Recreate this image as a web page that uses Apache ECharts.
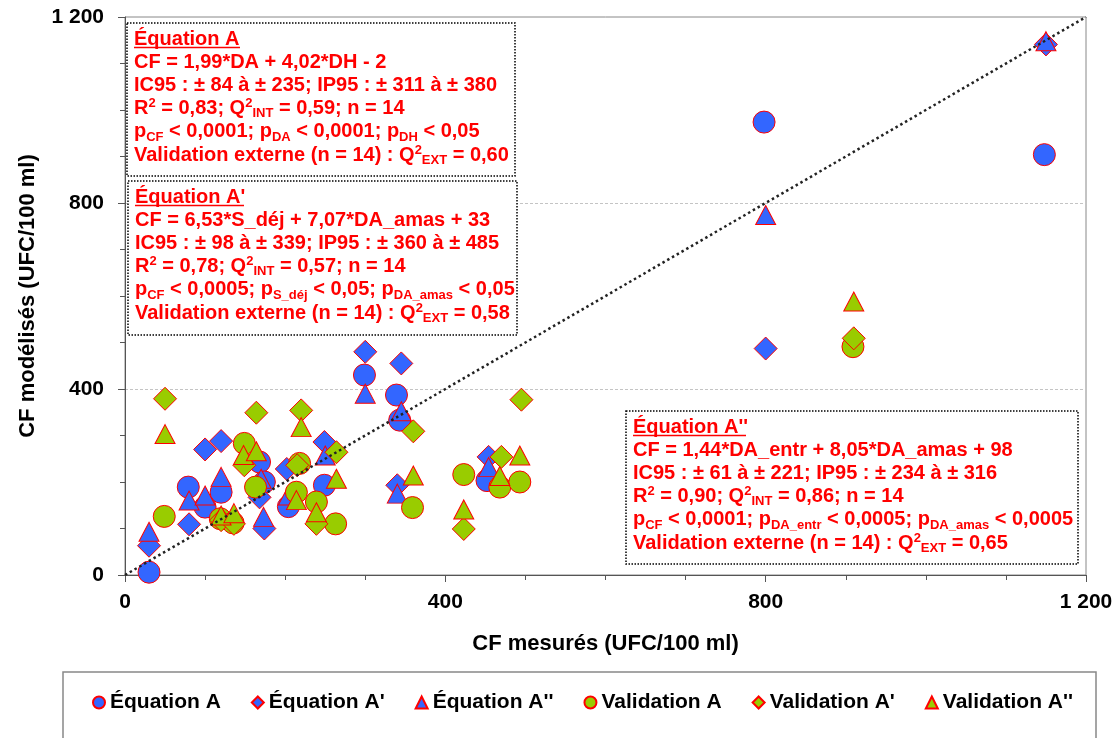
<!DOCTYPE html>
<html>
<head>
<meta charset="utf-8">
<script src="https://cdn.jsdelivr.net/npm/echarts@6/dist/echarts.min.js"></script>
<style>
  html, body { margin: 0; padding: 0; background: #fff; }
  #chart { width: 1118px; height: 738px; }
</style>
</head>
<body>
<div id="chart"></div>
<script>
// [CF mesurés, CF modélisés]
var eqA = [[30, 6], [79, 189], [100, 146], [120, 178], [168, 243], [174, 200], [204, 147],
  [249, 193], [299, 430], [339, 387], [343, 333], [452, 203], [798, 974], [1148, 904]]
var eqA1 = [[30, 63], [80, 109], [100, 270], [120, 288], [168, 167], [202, 228], [249, 286],
  [300, 480], [340, 193], [345, 455], [454, 254], [800, 487], [1150, 1141], [174, 100]]
var eqA2 = [[30, 93], [80, 160], [100, 171], [120, 211], [170, 207], [204, 171], [250, 257],
  [300, 390], [340, 175], [345, 352], [454, 232], [800, 774], [1150, 1148], [173, 125]]
var valA = [[49, 126], [119, 121], [135, 112], [149, 283], [163, 189], [218, 240], [214, 178],
  [239, 157], [263, 110], [359, 145], [423, 216], [468, 189], [493, 200], [909, 491]]
var valA1 = [[50, 379], [149, 236], [164, 349], [215, 236], [220, 354], [239, 110], [264, 264],
  [360, 309], [423, 99], [470, 254], [495, 377], [910, 509], [120, 118], [136, 110]]
var valA2 = [[50, 303], [120, 128], [136, 133], [148, 258], [164, 266], [214, 161], [220, 318],
  [239, 135], [264, 207], [360, 214], [423, 141], [468, 213], [493, 257], [910, 588]]
var diag = [[0, 0], [1200, 1200]]

var seriesNames = ['Équation A', "Équation A'", "Équation A''", 'Validation A', "Validation A'", "Validation A''"]
var axisMin = 0
var axisMax = 1200
var axisStep = 400

var box1 = [
  "Équation A",
  'CF = 1,99*DA + 4,02*DH - 2',
  'IC95 : ± 84 à ± 235; IP95 : ± 311 à ± 380',
  'R{sup|2} = 0,83; Q{sup|2}{sub|INT} = 0,59; n = 14',
  'p{sub|CF} < 0,0001; p{sub|DA} < 0,0001; p{sub|DH} < 0,05',
  'Validation externe (n = 14) : Q{sup|2}{sub|EXT} = 0,60'
]
var box2 = [
  "Équation A'",
  'CF = 6,53*S_déj + 7,07*DA_amas + 33',
  'IC95 : ± 98 à ± 339; IP95 : ± 360 à ± 485',
  'R{sup|2} = 0,78; Q{sup|2}{sub|INT} = 0,57; n = 14',
  'p{sub|CF} < 0,0005; p{sub|S_déj} < 0,05; p{sub|DA_amas} < 0,05',
  'Validation externe (n = 14) : Q{sup|2}{sub|EXT} = 0,58'
]
var box3 = [
  "Équation A''",
  'CF = 1,44*DA_entr + 8,05*DA_amas + 98',
  'IC95 : ± 61 à ± 221; IP95 : ± 234 à ± 316',
  'R{sup|2} = 0,90; Q{sup|2}{sub|INT} = 0,86; n = 14',
  'p{sub|CF} < 0,0001; p{sub|DA_entr} < 0,0005; p{sub|DA_amas} < 0,0005',
  'Validation externe (n = 14) : Q{sup|2}{sub|EXT} = 0,65'
]

var FONT = '"Liberation Sans", Arial, sans-serif'
var BLUE = '#3366ff'
var GREEN = '#99cc00'
var RED = '#ff0000'

function fmt (v) {
  return String(v).replace(/\B(?=(\d{3})+(?!\d))/g, ' ')
}

function scatter (name, data, symbol, size, color) {
  return {
    name: name,
    type: 'scatter',
    data: data,
    symbol: symbol,
    symbolSize: size,
    itemStyle: { color: color, borderColor: RED, borderWidth: 1, opacity: 1 },
    emphasis: { disabled: true }
  }
}

var rich = {
  sup: { fontSize: 13, lineHeight: 14, verticalAlign: 'top', fontWeight: 'bold', fontFamily: FONT, fill: RED },
  sub: { fontSize: 13, lineHeight: 10, verticalAlign: 'bottom', fontWeight: 'bold', fontFamily: FONT, fill: RED }
}

// dotted frame + text + underlined title
function note (x, y, w, h, lines, ulWidth) {
  return [
    {
      type: 'rect', z: 10,
      shape: { x: x, y: y, width: w, height: h },
      style: { fill: '#fff', stroke: '#000', lineWidth: 1.5, lineDash: [1.5, 1.5] }
    },
    {
      type: 'text', z: 11, x: x + 7, y: y + 4.5,
      style: {
        text: lines.join('\n'), fill: RED, fontSize: 20, fontWeight: 'bold', fontFamily: FONT,
        lineHeight: 23.2, verticalAlign: 'top', rich: rich
      }
    },
    {
      type: 'line', z: 11,
      shape: { x1: x + 7, y1: y + 24.5, x2: x + 7 + ulWidth, y2: y + 24.5 },
      style: { stroke: RED, lineWidth: 1.5 }
    }
  ]
}

var myChart = echarts.init(document.getElementById('chart'))

var option = {
  animation: false,
  backgroundColor: '#fff',
  grid: {
    left: 125, right: 32, top: 17, bottom: 163,
    show: true, borderColor: '#888', borderWidth: 1,
    outerBoundsMode: 'none'
  },
  legend: {
    data: seriesNames,
    left: 92, top: 692, padding: 0,
    itemWidth: 12, itemHeight: 12, itemGap: 30,
    textStyle: { fontFamily: FONT, fontWeight: 'bold', fontSize: 21, color: '#000' }
  },
  xAxis: {
    type: 'value', min: axisMin, max: axisMax, interval: axisStep,
    name: 'CF mesurés (UFC/100 ml)', nameLocation: 'middle', nameGap: 58,
    nameTextStyle: { fontFamily: FONT, fontWeight: 'bold', fontSize: 22, color: '#000' },
    axisLine: { show: true, onZero: false, lineStyle: { color: '#555', width: 1 } },
    axisTick: { show: true, length: 7, lineStyle: { color: '#555' } },
    minorTick: { show: true, splitNumber: 4, length: 5, lineStyle: { color: '#555' } },
    axisLabel: { margin: 17, formatter: fmt, fontFamily: FONT, fontWeight: 'bold', fontSize: 21, color: '#000' },
    splitLine: { show: false }
  },
  yAxis: {
    type: 'value', min: axisMin, max: axisMax, interval: axisStep,
    name: 'CF modélisés (UFC/100 ml)', nameLocation: 'middle', nameGap: 86, nameRotate: 90,
    nameTextStyle: { fontFamily: FONT, fontWeight: 'bold', fontSize: 22, color: '#000' },
    axisLine: { show: true, onZero: false, lineStyle: { color: '#555', width: 1 } },
    axisTick: { show: true, length: 7, lineStyle: { color: '#555' } },
    minorTick: { show: true, splitNumber: 4, length: 5, lineStyle: { color: '#555' } },
    axisLabel: { margin: 21, formatter: fmt, fontFamily: FONT, fontWeight: 'bold', fontSize: 21, color: '#000' },
    splitLine: { show: true, showMinLine: false, showMaxLine: false, lineStyle: { color: '#c4c4c4', type: [3, 2], width: 1 } }
  },
  series: [
    scatter(seriesNames[0], eqA, 'circle', 22, BLUE),
    scatter(seriesNames[1], eqA1, 'diamond', 23, BLUE),
    scatter(seriesNames[2], eqA2, 'triangle', [20, 19], BLUE),
    scatter(seriesNames[3], valA, 'circle', 22, GREEN),
    scatter(seriesNames[4], valA1, 'diamond', 23, GREEN),
    scatter(seriesNames[5], valA2, 'triangle', [20, 19], GREEN),
    {
      name: 'diag', type: 'line', data: diag, symbol: 'none', silent: true,
      lineStyle: { color: '#222', width: 2.5, type: [2.5, 3] }
    }
  ],
  graphic: [].concat(
    note(127, 23, 388, 153, box1, 106),
    note(128, 181, 389, 154, box2, 109),
    note(626, 411, 452, 153, box3, 113),
    [{
      type: 'rect', z: 1,
      shape: { x: 63, y: 672, width: 1033, height: 120 },
      style: { fill: 'none', stroke: '#888', lineWidth: 1.5 }
    }]
  )
}

myChart.setOption(option)
</script>
</body>
</html>
